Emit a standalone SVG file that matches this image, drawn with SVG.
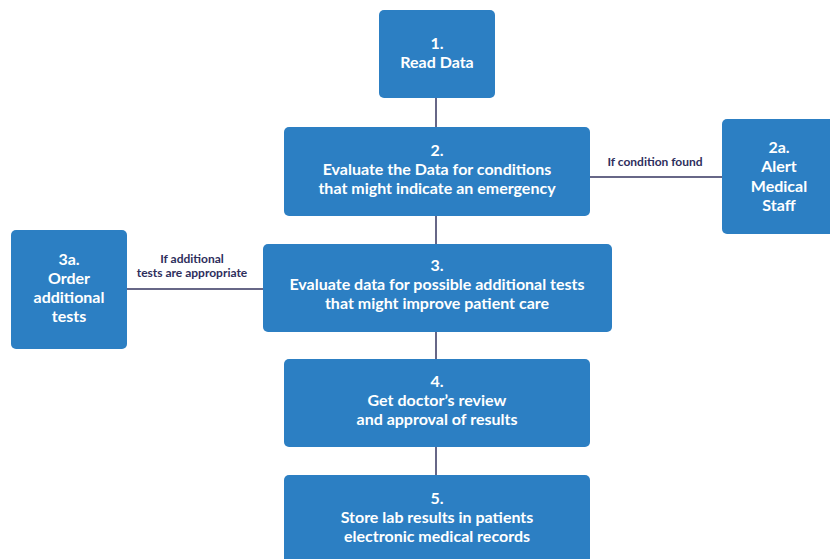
<svg xmlns="http://www.w3.org/2000/svg" width="830" height="559" viewBox="0 0 830 559">
<style>
.box{fill:#2c7fc3;}
.t{font-family:Lato,"Noto Sans",sans-serif;font-weight:700;font-size:16px;fill:#ffffff;text-anchor:middle;}
.l{font-family:Lato,"Noto Sans",sans-serif;font-weight:700;font-size:12px;fill:#2e2e5c;text-anchor:middle;}
.c{stroke:#34345f;stroke-width:1.5;fill:none;}
</style>
<rect width="830" height="559" fill="#ffffff"/>
<g id="connectors">
<line class="c" x1="436" y1="98" x2="436" y2="127"/>
<line class="c" x1="436" y1="216" x2="436" y2="244"/>
<line class="c" x1="436" y1="332" x2="436" y2="359"/>
<line class="c" x1="436" y1="447" x2="436" y2="475"/>
<line class="c" x1="590" y1="177" x2="722" y2="177"/>
<line class="c" x1="127" y1="289" x2="263" y2="289"/>
<text class="l" x="655" y="166">If condition found</text>
<text class="l" x="192" y="263">If additional</text>
<text class="l" x="192" y="277">tests are appropriate</text>
</g>
<g id="n1">
<rect class="box" x="379" y="10" width="116" height="88" rx="5"/>
<text class="t" x="437" y="49">1.</text>
<text class="t" x="437" y="68">Read Data</text>
</g>
<g id="n2">
<rect class="box" x="284" y="127" width="306" height="89" rx="5"/>
<text class="t" x="437" y="156">2.</text>
<text class="t" x="437" y="175">Evaluate the Data for conditions</text>
<text class="t" x="437" y="194">that might indicate an emergency</text>
</g>
<g id="n2a">
<rect class="box" x="722" y="119" width="114" height="115" rx="5"/>
<text class="t" x="779" y="153">2a.</text>
<text class="t" x="779" y="172">Alert</text>
<text class="t" x="779" y="192">Medical</text>
<text class="t" x="779" y="211">Staff</text>
</g>
<g id="n3a">
<rect class="box" x="11" y="230" width="116" height="119" rx="5"/>
<text class="t" x="69" y="265">3a.</text>
<text class="t" x="69" y="284">Order</text>
<text class="t" x="69" y="303">additional</text>
<text class="t" x="69" y="322">tests</text>
</g>
<g id="n3">
<rect class="box" x="263" y="244" width="349" height="88" rx="5"/>
<text class="t" x="437" y="271">3.</text>
<text class="t" x="437" y="290">Evaluate data for possible additional tests</text>
<text class="t" x="437" y="309">that might improve patient care</text>
</g>
<g id="n4">
<rect class="box" x="284" y="359" width="306" height="88" rx="5"/>
<text class="t" x="437" y="387">4.</text>
<text class="t" x="437" y="406">Get doctor’s review</text>
<text class="t" x="437" y="425">and approval of results</text>
</g>
<g id="n5">
<rect class="box" x="284" y="475" width="306" height="95" rx="5"/>
<text class="t" x="437" y="504">5.</text>
<text class="t" x="437" y="523">Store lab results in patients</text>
<text class="t" x="437" y="542">electronic medical records</text>
</g>
</svg>
